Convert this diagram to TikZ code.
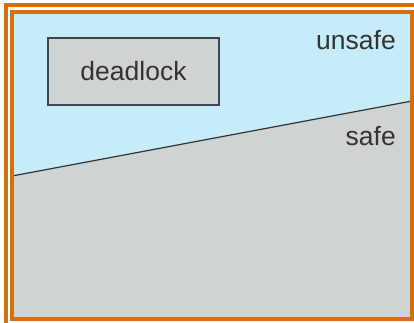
\documentclass[tikz,border=0pt]{standalone}
\usepackage{fontspec}
\setmainfont{Liberation Sans}
\definecolor{frameorange}{HTML}{D4700F}
\definecolor{unsafeblue}{HTML}{C6ECFA}
\definecolor{safegray}{HTML}{D0D3D3}
\definecolor{boxedge}{HTML}{3A4650}
\definecolor{txt}{HTML}{333333}
\tikzset{
  frameline/.style={draw=frameorange, line width=3.4pt},
  regionlabel/.style={font=\fontsize{26.5}{30}\selectfont, text=txt, inner sep=0pt, anchor=east},
  deadbox/.style={draw=boxedge, line width=1.5pt, fill=safegray, minimum width=171pt, minimum height=67pt, inner sep=0pt, font=\fontsize{26.5}{30}\selectfont, text=txt}
}
\begin{document}
\begin{tikzpicture}[x=1pt,y=-1pt]
\useasboundingbox[fill=white] (0,0) rectangle (414,322);
% regions
\fill[unsafeblue] (12,12) rectangle (412,319);
\fill[safegray] (12,176) -- (412,101) -- (412,319) -- (12,319) -- cycle;
\coordinate (lineL) at (12,176);
\coordinate (lineR) at (412,101);
\draw[black!80, line width=1.2pt] (lineL) -- (lineR);
% frames
\draw[frameline] (6,340) -- (6,5) -- (430,5);
\draw[frameline] (12,12) rectangle (412,319);
% deadlock box
\node[deadbox] (dead) at (133.5,71.5) {deadlock};
% labels
\node[regionlabel] (unsafe) at (396,40) {unsafe};
\node[regionlabel] (safe) at (396,136) {safe};
\end{tikzpicture}
\end{document}
